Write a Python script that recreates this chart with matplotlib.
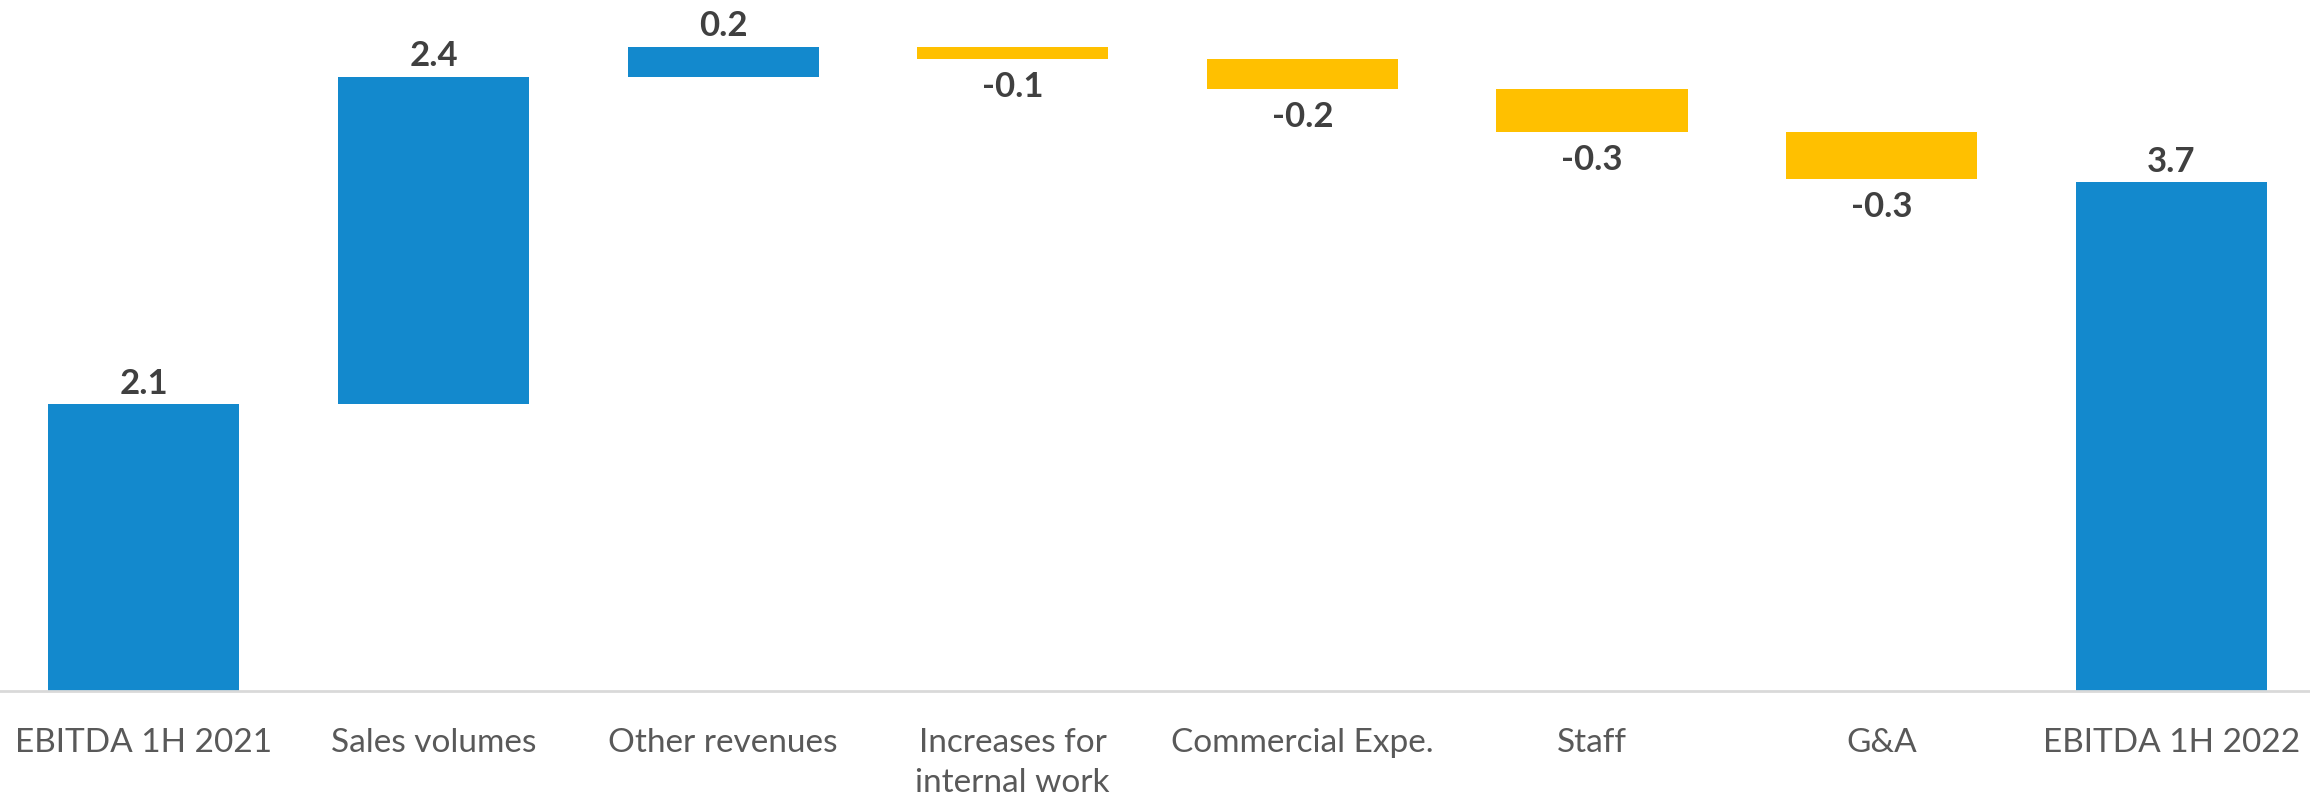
import matplotlib
matplotlib.use("Agg")
import matplotlib.pyplot as plt
import numpy as np

# Data (EUR m)
categories = ["EBITDA 1H 2021", "Sales volumes", "Other revenues",
              "Increases for\ninternal work", "Commercial Expe.", "Staff",
              "G&A", "EBITDA 1H 2022"]
start_value = 2.09
deltas = [2.39, 0.22, -0.09, -0.22, -0.31, -0.345]
end_value = 3.71

BLUE = "#1389CD"
GOLD = "#FFC000"
LABEL = "#404040"
TICK = "#595959"

plt.rcParams["font.family"] = ["Lato", "DejaVu Sans"]

# build floating bars
bottoms, heights, colors, values = [0.0], [start_value], [BLUE], [start_value]
running = start_value
for d in deltas:
    if d >= 0:
        bottoms.append(running)
        heights.append(d)
        colors.append(BLUE)
    else:
        bottoms.append(running + d)
        heights.append(-d)
        colors.append(GOLD)
    values.append(d)
    running += d
bottoms.append(0.0)
heights.append(end_value)
colors.append(BLUE)
values.append(end_value)

fig = plt.figure(figsize=(23.1, 8), dpi=100)
ax = fig.add_axes([-0.0004, 109 / 800, 1.003, 691 / 800])

x = np.arange(len(categories))
ax.bar(x, heights, bottom=bottoms, width=0.66, color=colors, edgecolor="none")

for xi, b, h, v in zip(x, bottoms, heights, values):
    txt = f"{v:.1f}"
    if v >= 0:
        ax.annotate(txt, (xi, b + h), xytext=(0, 7.5), textcoords="offset points",
                    ha="center", va="baseline", fontsize=25, fontweight="bold",
                    color=LABEL)
    else:
        ax.annotate(txt, (xi, b), xytext=(0, -27.5), textcoords="offset points",
                    ha="center", va="baseline", fontsize=25, fontweight="bold",
                    color=LABEL)

ax.set_xlim(-0.5, len(categories) - 0.5)
ax.set_ylim(0, 5.04)
ax.set_xticks(x)
ax.set_xticklabels(categories, fontsize=24, color=TICK, linespacing=1.4)
ax.tick_params(axis="x", length=0, pad=27)
ax.set_yticks([])
for side in ["top", "right", "left"]:
    ax.spines[side].set_visible(False)
ax.spines["bottom"].set_color("#D9D9D9")
ax.spines["bottom"].set_linewidth(2)

fig.savefig("out.png", dpi=100, facecolor="white")
